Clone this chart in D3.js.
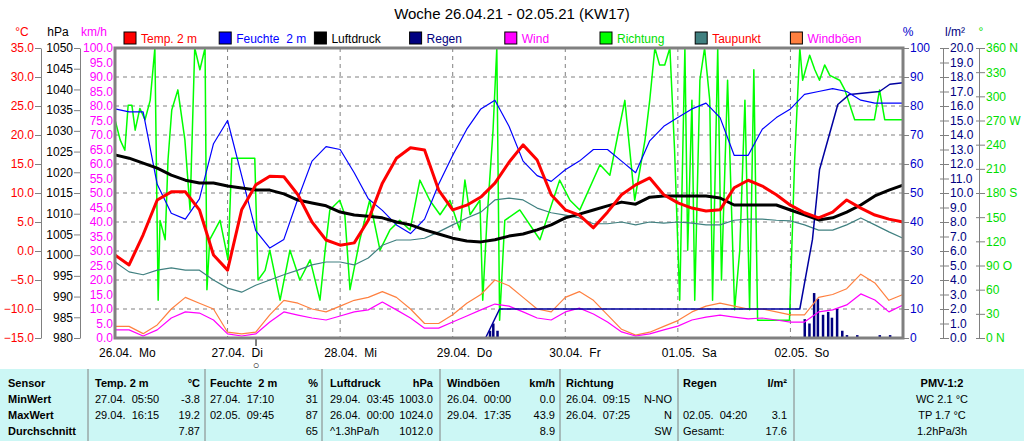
<!doctype html>
<html>
<head>
<meta charset="utf-8">
<script src="https://cdnjs.cloudflare.com/ajax/libs/d3/7.8.5/d3.min.js"></script>
<style>
body{margin:0;background:#fff;}
svg{font-family:"Liberation Sans",Arial,sans-serif;font-size:12px;}
text{white-space:pre;}
</style>
</head>
<body>
<svg id="chart" width="1024" height="441"></svg>
<script>
// 3-hourly values, 26.04. 00:00 .. 03.05. 00:00
const temp = [-0.7,-2.4,2.8,8.8,10.2,10.2,7.1,-0.7,-3.3,7.1,11.4,12.9,12.8,9.7,5.0,1.9,1.0,1.4,5.3,11.7,16.0,17.8,17.4,10.5,7.1,7.9,9.3,11.7,15.3,18.3,15.7,9.7,7.1,6.2,4.0,6.7,9.7,11.4,12.6,9.7,8.3,7.4,6.9,7.1,10.9,12.2,11.2,9.7,7.9,6.6,5.7,6.7,8.8,7.4,6.2,5.5,5.0];
const humidity = [79,78,78,53,43,41,48,67,75,56,37,31,34,48,61,66,65,57,48,44,39,36,41,53,63,72,79,82,73,61,56,54,58,61,65,65,61,57,68,73,76,79,81,76,63,63,72,76,79,84,85,86,85,82,81,81,81];
const pressure = [1024.2,1023.4,1022.2,1021,1019.3,1018.1,1017.4,1017.4,1016.7,1016.2,1015.7,1015.7,1014.8,1013.3,1012.6,1011.9,1010.4,1009.7,1009.4,1009,1008,1007.3,1006.1,1005.1,1004.1,1003.4,1003.2,1003.7,1004.6,1005.1,1006.1,1007.3,1009,1009.9,1010.9,1011.9,1012.8,1012.3,1014,1014.3,1014.3,1014.3,1014.3,1013.8,1012.1,1012.1,1012.1,1012.1,1010.9,1009.7,1008.5,1009,1010.4,1012.1,1014.3,1015.7,1016.9];
const dewpoint = [-1.9,-3.6,-4.1,-3.3,-2.9,-3.3,-3.3,-5.0,-6.4,-7.1,-5.9,-5.0,-4.1,-3.3,-2.4,-1.9,-1.9,-2.4,-1.2,1.0,1.9,1.9,2.2,3.3,4.5,5.7,6.7,8.8,9.1,8.8,7.4,6.6,6.2,5.7,4.7,4.7,5.0,4.5,5.0,4.8,5.0,4.8,4.5,4.5,5.3,5.5,5.5,5.3,5.2,4.5,3.6,3.6,4.5,5.7,4.5,3.3,2.2];
const wind = [2.8,2.8,0.7,2.8,6.9,9.0,8.6,6.2,1.4,0.7,1.4,5.5,9.0,7.9,6.9,6.2,7.6,9.0,9.7,12.4,9.7,6.9,3.4,3.4,5.5,7.6,9.7,11.7,11.0,9.0,6.9,6.2,9.0,10.3,8.3,5.5,2.1,0.7,1.4,2.8,4.1,6.2,7.2,7.9,7.2,6.6,6.9,6.2,5.5,5.5,9.0,9.7,11.4,15.2,13.1,9.0,11.4];
const gust = [4.0,4.0,1.5,4.5,10,14,12,10,2,1.4,2,8,13,12,10,9,11,13,14,16,14,10,5,5,8,12,15,20,18,14,10,9,14,16,13,8,3,1,2,4,6,9,11,12,11,10,10,9,8,8,14,15,17,22,19,13,15];
// wind direction, irregular: hours / degrees
const dirHours = [0,1.1,2.1,2.8,3.6,4.3,5.3,6.4,7.5,8.5,9.2,9.6,10.7,11.3,12.1,13.4,14.9,16,17,18.1,19.2,19.6,20.2,22.4,24.1,24.9,29.8,30.5,32,33,35.2,37.3,39.4,41.6,43.7,44.8,45.8,47.9,49,50.1,52.2,54.3,56.5,58.6,60.7,62.9,65,67.1,69.3,71.4,73.5,74.6,75.7,77.8,78.4,79.3,80.6,81.4,82,83.1,86.3,90.6,94.8,97,99.1,103.4,105.5,107.2,108.7,110.8,113,114,115.1,116.1,117.2,118.3,119.3,120.4,121.5,122.1,123,123.6,124.7,125.7,126.8,127.4,128.5,129.3,130.6,132.1,133.2,134.3,135.3,136.2,137,139.6,143.8,144.9,146,146.6,148.1,149.2,150.2,151.3,152.4,154.5,155.6,157.7,161.9,163,164.1,168];
const dirValues = [271,246,233,289,289,258,285,271,295,360,47,146,122,221,283,308,246,159,360,333,360,60,122,146,97,223,223,72,84,109,47,109,72,97,47,109,159,171,153,60,122,171,109,134,146,134,196,171,153,171,134,196,153,171,47,146,258,360,22,146,159,122,196,171,159,215,202,252,295,171,246,295,360,339,339,360,233,47,360,109,295,47,320,360,295,47,360,72,320,35,109,295,35,333,22,22,22,221,360,320,351,333,320,339,326,320,308,271,271,308,271,271];
// rain per interval: hours / mm
const rainHours = [79.9,80.6,81.5,147,148,149,149.8,150.9,152,152.8,153.9,155,156,158.2,163,165.2];
const rainValues = [0.5,1.0,0.5,1.3,1.0,3.1,2.7,1.6,1.8,1.4,2.0,0.5,0.2,0.2,0.2,0.2];
const rainSumHours = [0,79,82,146,148.7,150.2,154.1,156.6,163,165.2,168];
const rainSumValues = [0,0,2.0,2.0,6.8,11.6,16.1,16.8,17.0,17.5,17.6];

const days = ["26.04.  Mo","27.04.  Di","28.04.  Mi","29.04.  Do","30.04.  Fr","01.05.  Sa","02.05.  So"];
const dirLabels = {360:"360 N",270:"270 W",180:"180 S",90:"90 O",0:"0 N"};

// name, box colour, text colour
const legend = [["Temp. 2 m","#ff0000","#ff0000"],["Feuchte  2 m","#0000ff","#0000ff"],["Luftdruck","#000000","#000000"],["Regen","#000080","#000080"],
  ["Wind","#ff00ff","#ff00ff"],["Richtung","#00ff00","#00dd00"],["Taupunkt","#408080","#ff0000"],["Windböen","#ff8040","#ff00ff"]];

const tableCols = [
  {x:8, w:0, head:["Sensor",""], rows:[["MinWert",""],["MaxWert",""],["Durchschnitt",""]], boldRows:true},
  {x:95, w:200, head:["Temp. 2 m","°C"], rows:[["27.04.  05:50","-3.8"],["29.04.  16:15","19.2"],["","7.87"]]},
  {x:210, w:318, head:["Feuchte  2 m","%"], rows:[["27.04.  17:10","31"],["02.05.  09:45","87"],["","65"]]},
  {x:330, w:433, head:["Luftdruck","hPa"], rows:[["29.04.  03:45","1003.0"],["26.04.  00:00","1024.0"],["^1.3hPa/h","1012.0"]]},
  {x:447, w:555, head:["Windböen","km/h"], rows:[["26.04.  00:00","0.0"],["29.04.  17:35","43.9"],["","8.9"]]},
  {x:566, w:672, head:["Richtung",""], rows:[["26.04.  09:15","N-NO"],["26.04.  07:25","N"],["","SW"]]},
  {x:683, w:787, head:["Regen","l/m²"], rows:[["",""],["02.05.  04:20","3.1"],["Gesamt:","17.6"]]}
];
const pmv = ["PMV-1:2","WC 2.1 °C","TP 1.7 °C","1.2hPa/3h"];

const svg = d3.select("#chart");
const L = 115, R = 903, T = 48, B = 338;

const x = d3.scaleLinear().domain([0,168]).range([L,R]);
const yT = d3.scaleLinear().domain([-15,35]).range([B,T]);
const yP = d3.scaleLinear().domain([980,1050]).range([B,T]);
const yK = d3.scaleLinear().domain([0,100]).range([B,T]);
const yH = d3.scaleLinear().domain([0,100]).range([B,T]);
const yR = d3.scaleLinear().domain([0,20]).range([B,T]);
const yD = d3.scaleLinear().domain([0,360]).range([B,T]);
const hrs = temp.map((d,i) => i*3);

// title
svg.append("text").attr("x",512).attr("y",19).attr("text-anchor","middle").style("font-size","15px").text("Woche 26.04.21 - 02.05.21 (KW17)");

// legend
legend.forEach((d,i) => {
  const lx = 124 + i*95.2;
  svg.append("rect").attr("x",lx).attr("y",32).attr("width",12).attr("height",12).attr("fill",d[1]).attr("stroke","#000");
  svg.append("text").attr("x",lx+17).attr("y",43).attr("fill",d[2]).text(d[0]);
});

// unit headers
const hdr = [[22,"°C","#ff0000"],[58,"hPa","#000"],[94,"km/h","#ff00ff"],[908,"%","#0000cc"],[955,"l/m²","#000080"],[981,"°","#00dd00"]];
hdr.forEach(h => svg.append("text").attr("x",h[0]).attr("y",36).attr("text-anchor","middle").attr("fill",h[2]).text(h[1]));

// grid
const grid = svg.append("g").attr("stroke","#808080").attr("stroke-dasharray","4,4");
d3.range(10,100,10).forEach(v => grid.append("line").attr("x1",L).attr("x2",R).attr("y1",yK(v)).attr("y2",yK(v)));
d3.range(1,7).forEach(d => grid.append("line").attr("x1",x(d*24)).attr("x2",x(d*24)).attr("y1",T).attr("y2",B));

// left axes
function leftAxis(scale, xpos, ticks, fmt, color, drawLine){
  const g = svg.append("g").attr("transform",`translate(${xpos},0)`)
    .call(d3.axisLeft(scale).tickValues(ticks).tickFormat(fmt).tickSize(6).tickSizeOuter(0));
  g.select(".domain").attr("stroke","#808080").style("display",drawLine ? null : "none");
  g.selectAll(".tick line").attr("stroke","#808080");
  g.selectAll("text").attr("fill",color).style("font-size","12px").attr("x",-7);
  return g;
}
leftAxis(yT, 41, d3.range(-15,36,5), d3.format(".1f"), "#ff0000", true);
leftAxis(yP, 80, d3.range(980,1051,5), d3.format("d"), "#000", true);
const gk = leftAxis(yK, 115, d3.range(0,101,5), d3.format(".1f"), "#ff00ff", false);
gk.selectAll(".tick line").remove();
gk.selectAll("text").attr("x",-2);

// right axes
function rightAxis(scale, xpos, ticks, fmt, color){
  const g = svg.append("g").attr("transform",`translate(${xpos},0)`)
    .call(d3.axisRight(scale).tickValues(ticks).tickFormat(fmt).tickSize(6).tickSizeOuter(0));
  g.select(".domain").attr("stroke","#808080");
  g.selectAll(".tick line").attr("stroke","#808080");
  g.selectAll("text").attr("fill",color).style("font-size","12px").attr("x",7);
  return g;
}
const gh = rightAxis(yH, 903, d3.range(0,101,10), d3.format("d"), "#0000cc");
gh.select(".domain").remove();
const gr = rightAxis(yR, 943, d3.range(0,21,1), d3.format(".1f"), "#000080");
gr.selectAll(".tick line").attr("x1",-3);
const gd = rightAxis(yD, 979, d3.range(0,361,30), d => dirLabels[d] || String(d), "#00dd00");
gd.selectAll(".tick line").attr("x1",-3);

// x labels
days.forEach((d,i) => svg.append("text").attr("x",x(i*24)-16).attr("y",357).text(d));
svg.append("line").attr("x1",256).attr("x2",256).attr("y1",B).attr("y2",346).attr("stroke","#000");
svg.append("text").attr("x",256).attr("y",369).attr("text-anchor","middle").style("font-size","11px").text("○");

// rain bars
svg.append("g").selectAll("rect").data(rainHours).enter().append("rect")
  .attr("x",d => x(d)-1).attr("y",(d,i) => yR(rainValues[i])).attr("width",2.5)
  .attr("height",(d,i) => B - yR(rainValues[i])).attr("fill","#000080");

// lines
function drawLine(xs, ys, scale, color, w){
  const line = d3.line().x((d,i) => x(xs[i])).y(d => scale(d));
  svg.append("path").datum(ys).attr("d",line).attr("fill","none").attr("stroke",color).attr("stroke-width",w).attr("stroke-linejoin","round");
}
drawLine(dirHours, dirValues, yD, "#00ff00", 1.5);
drawLine(hrs, dewpoint, yT, "#408080", 1.2);
drawLine(hrs, gust, yK, "#ff8040", 1.2);
drawLine(hrs, wind, yK, "#ff00ff", 1.2);
drawLine(rainSumHours, rainSumValues, yR, "#0000a0", 1.5);
drawLine(hrs, humidity, yH, "#0000ff", 1.2);
drawLine(hrs, pressure, yP, "#000000", 3);
drawLine(hrs, temp, yT, "#ff0000", 3);

// plot frame
svg.append("rect").attr("x",L).attr("y",T).attr("width",R-L).attr("height",B-T).attr("fill","none").attr("stroke","#808080").attr("stroke-width",3);

// table
svg.append("rect").attr("x",0).attr("y",369).attr("width",1024).attr("height",72).attr("fill","#ccf7f5");
[88,205,322,440,560,678,794].forEach(sx => svg.append("line").attr("x1",sx).attr("x2",sx).attr("y1",369).attr("y2",441).attr("stroke","#808080"));
const rowY = [387,403,419,435];
tableCols.forEach(c => {
  svg.append("text").attr("x",c.x).attr("y",rowY[0]).style("font-weight","bold").style("font-size","11px").text(c.head[0]);
  if (c.head[1]) svg.append("text").attr("x",c.w).attr("y",rowY[0]).attr("text-anchor","end").style("font-weight","bold").style("font-size","11px").text(c.head[1]);
  c.rows.forEach((r,i) => {
    svg.append("text").attr("x",c.x).attr("y",rowY[i+1]).style("font-size","11px").style("font-weight",c.boldRows ? "bold" : null).text(r[0]);
    if (r[1]) svg.append("text").attr("x",c.w).attr("y",rowY[i+1]).attr("text-anchor","end").style("font-size","11px").text(r[1]);
  });
});
pmv.forEach((t,i) => svg.append("text").attr("x",942).attr("y",rowY[i]).attr("text-anchor","middle").style("font-size","11px").style("font-weight",i === 0 ? "bold" : null).text(t));
</script>
</body>
</html>
